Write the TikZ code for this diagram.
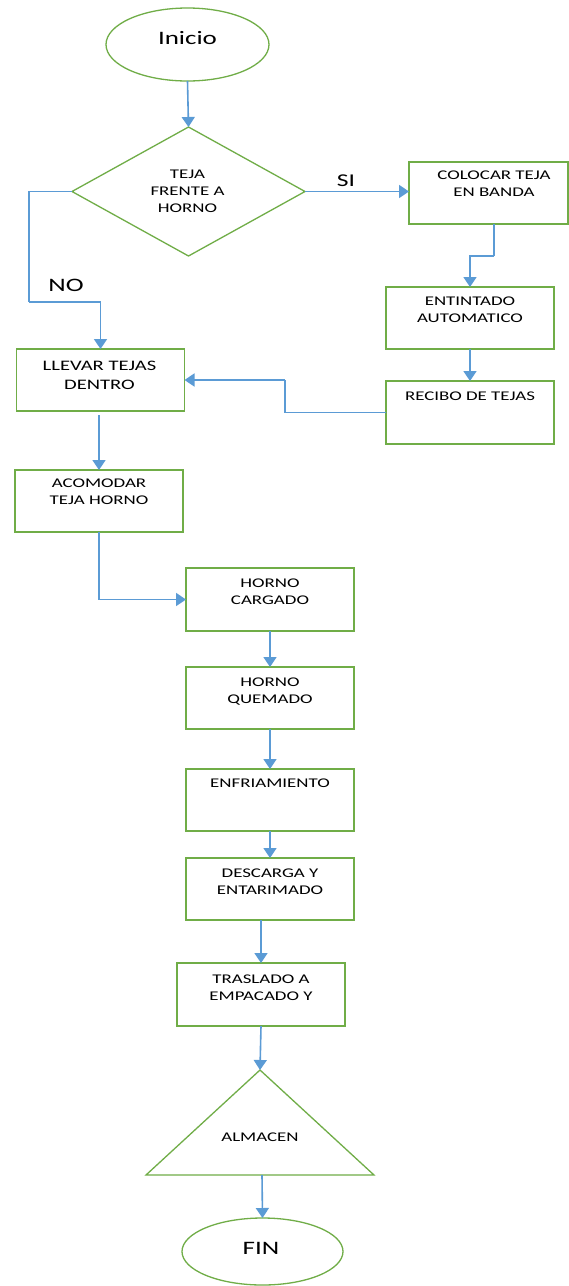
\documentclass[tikz,border=0pt]{standalone}
\usepackage{fontspec}
\setmainfont{Carlito}
\newfontfamily\chartfont[FakeStretch=1.42]{Carlito}
\usetikzlibrary{shapes.geometric,arrows.meta}
\definecolor{boxgreen}{HTML}{70AD47}
\definecolor{flowblue}{HTML}{5B9BD5}
\begin{document}
\begin{tikzpicture}[x=1pt,y=-1pt,
  stepbox/.style={draw=boxgreen, line width=1.3pt, minimum width=168pt, minimum height=62pt, inner sep=0pt, outer sep=0pt},
  oval/.style={ellipse, draw=boxgreen, line width=1.3pt, inner sep=0pt, outer sep=0pt},
  boxtext/.style={anchor=base, align=center, inner sep=0pt, font=\chartfont\fontsize{13.3}{17}\selectfont},
  bigtext/.style={anchor=base, align=center, inner sep=0pt, font=\chartfont\fontsize{19}{23}\selectfont},
  flow/.style={draw=flowblue, line width=1.6pt, -{Triangle[width=13pt,length=10pt]}},
  line/.style={draw=flowblue, line width=1.6pt}]
\fill[white] (0,0) rectangle (569,1286);
\useasboundingbox (0,0) rectangle (569,1286);

% start
\node[oval, minimum width=163pt, minimum height=73pt] (inicio) at (187.5,44.5) {};
\node[bigtext] (inicioT) at (187.5,44) {Inicio};

% decision (text nodes are anchored on the baseline of their last line)
\node[diamond, draw=boxgreen, line width=1.3pt, minimum width=233pt, minimum height=129pt, inner sep=0pt, outer sep=0pt] (dec) at (188.5,191.5) {};
\node[boxtext] (decT) at (187.5,212) {TEJA\\FRENTE A\\HORNO};
\node[anchor=base, inner sep=0pt, font=\chartfont\fontsize{18}{22}\selectfont] (si) at (346,186.5) {SI};
\node[anchor=base, inner sep=0pt, font=\chartfont\fontsize{19}{23}\selectfont] (no) at (66,291) {NO};

% right branch
\node[stepbox, minimum width=159pt] (colocar) at (488.5,193) {};
\node[boxtext] (colocarT) at (494,196.7) {COLOCAR TEJA\\EN BANDA};
\node[stepbox] (entintado) at (470,318) {};
\node[boxtext] (entintadoT) at (470,322.5) {ENTINTADO\\AUTOMATICO};
\node[stepbox, minimum height=63pt] (recibo) at (470,412.5) {};
\node[boxtext] (reciboT) at (470,400) {RECIBO DE TEJAS};

% left column
\node[stepbox] (llevar) at (100.5,380) {};
\node[boxtext, font=\chartfont\fontsize{14.5}{19.5}\selectfont] (llevarT) at (99.5,389.5) {LLEVAR TEJAS\\DENTRO};
\node[stepbox] (acomodar) at (99,501) {};
\node[boxtext] (acomodarT) at (99,504.5) {ACOMODAR\\TEJA HORNO};

% kiln sequence
\node[stepbox, minimum height=63pt] (cargado) at (270,599.5) {};
\node[boxtext] (cargadoT) at (270,604.3) {HORNO\\CARGADO};
\node[stepbox] (quemado) at (270,698) {};
\node[boxtext] (quemadoT) at (270,703.5) {HORNO\\QUEMADO};
\node[stepbox] (enfriamiento) at (270,800) {};
\node[boxtext] (enfriamientoT) at (270,787.3) {ENFRIAMIENTO};
\node[stepbox] (descarga) at (270,889) {};
\node[boxtext] (descargaT) at (270,894.3) {DESCARGA Y\\ENTARIMADO};
\node[stepbox, minimum height=63pt] (traslado) at (261,994.5) {};
\node[boxtext] (trasladoT) at (261,1000) {TRASLADO A\\EMPACADO Y};

% storage
\coordinate (almTop) at (260,1070);
\coordinate (almLeft) at (146,1175);
\coordinate (almRight) at (374,1175);
\coordinate (almBase) at (262,1175);
\draw[boxgreen, line width=1.3pt, line join=miter] (almTop) -- (almRight) -- (almLeft) -- cycle;
\node[boxtext] (almT) at (260,1141.5) {ALMACEN};

% end
\node[oval, minimum width=161pt, minimum height=67pt] (fin) at (262.5,1251.5) {};
\node[bigtext] (finT) at (261,1254) {FIN};

% connectors
\coordinate (noTurn) at (29,302);
\coordinate (cTurn) at (494,256);
\coordinate (rTurn) at (285,380);
\draw[flow] (inicio.south) -- (dec.north);
\draw[flow] (dec.east) -- (dec.east -| colocar.west);
\draw[line] (dec.west) -| (noTurn);
\draw[flow] (noTurn) -| (llevar.north);
\draw[line] (cTurn |- colocar.south) -- (cTurn);
\draw[flow] (cTurn) -| (entintado.north);
\draw[flow] (entintado.south) -- (recibo.north);
\draw[line] (recibo.west) -| (rTurn);
\draw[flow] (rTurn) -- (rTurn -| llevar.east);
\draw[flow] (acomodar.north |- 0,415) -- (acomodar.north);
\draw[flow] (acomodar.south) |- (cargado.west);
\draw[flow] (cargado.south) -- (quemado.north);
\draw[flow] (quemado.south) -- (enfriamiento.north);
\draw[flow] (enfriamiento.south) -- (descarga.north);
\draw[flow] (traslado.north |- descarga.south) -- (traslado.north);
\draw[flow] (traslado.south) -- (almTop);
\draw[flow] (almBase) -- (fin.north);
\end{tikzpicture}
\end{document}
